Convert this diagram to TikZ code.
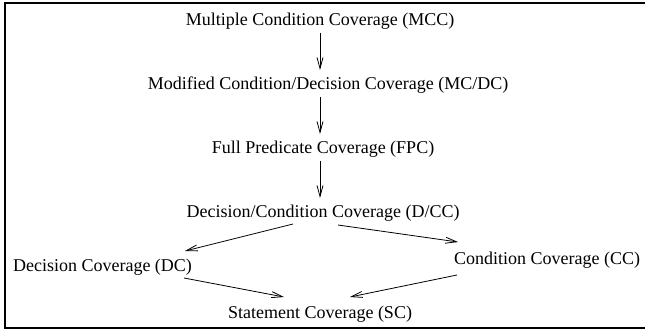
\documentclass[tikz,border=0pt]{standalone}
\usepackage{fontspec}
\setmainfont{Liberation Serif}
\usetikzlibrary{arrows.meta}
\tikzset{
  lbl/.style={inner sep=0pt, anchor=base, font=\fontsize{18}{21}\selectfont},
  arr/.style={line width=0.8pt, -{Straight Barb[length=11pt,width=6pt,line width=0.8pt]}},
  frame/.style={line width=2pt}
}
\begin{document}
\begin{tikzpicture}[x=1pt,y=-1pt]
\useasboundingbox (0,0) rectangle (645,329);
\draw[frame] (648,3) -- (5,3) -- (5,327.5) -- (648,327.5);
\node[lbl] (mcc)  at (320,25.5) {Multiple Condition Coverage (MCC)};
\node[lbl] (mcdc) at (328,89)   {Modified Condition/Decision Coverage (MC/DC)};
\node[lbl] (fpc)  at (323,153)  {Full Predicate Coverage (FPC)};
\node[lbl] (dcc)  at (323,217)  {Decision/Condition Coverage (D/CC)};
\node[lbl] (dc)   at (102.5,271.5) {Decision Coverage (DC)};
\node[lbl] (cc)   at (547,264)  {Condition Coverage (CC)};
\node[lbl] (sc)   at (320,318.5)  {Statement Coverage (SC)};
\draw[arr] ([shift={(0pt,-7.5pt)}]mcc.base) -- ([shift={(-8pt,19pt)}]mcdc.base);
\draw[arr] ([shift={(-8pt,-8pt)}]mcdc.base) -- ([shift={(-3pt,19pt)}]fpc.base);
\draw[arr] ([shift={(-3pt,-8pt)}]fpc.base) -- ([shift={(-3pt,19pt)}]dcc.base);
\draw[arr] ([shift={(-30pt,-7pt)}]dcc.base) -- ([shift={(82.5pt,20.5pt)}]dc.base);
\draw[arr] ([shift={(15pt,-8pt)}]dcc.base) -- ([shift={(-89pt,22pt)}]cc.base);
\draw[arr] ([shift={(81.5pt,-6.5pt)}]dc.base) -- ([shift={(-36pt,21.5pt)}]sc.base);
\draw[arr] ([shift={(-90pt,-11pt)}]cc.base) -- ([shift={(30pt,21.5pt)}]sc.base);
\end{tikzpicture}
\end{document}
